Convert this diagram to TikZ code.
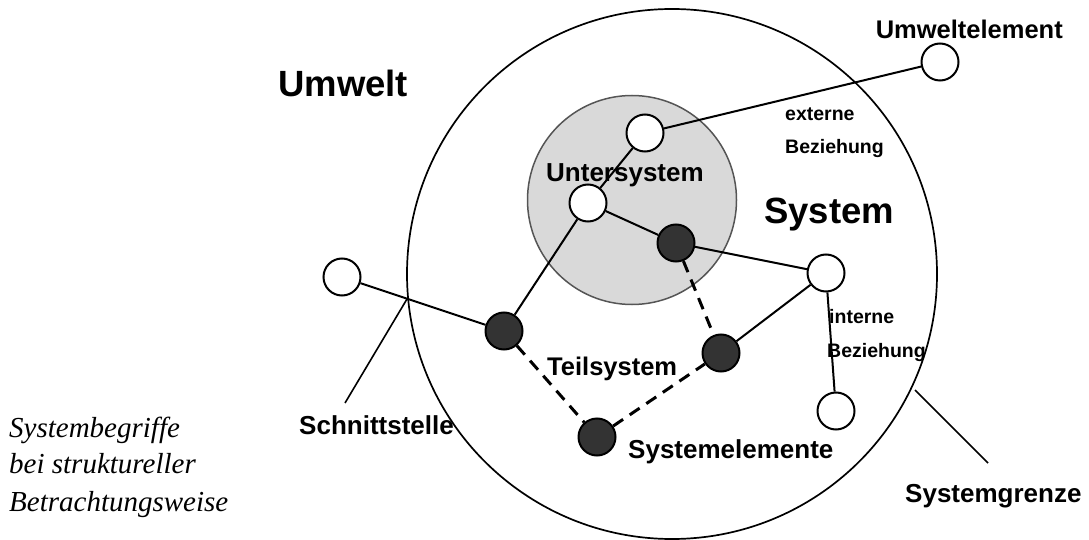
\documentclass[tikz,border=0pt]{standalone}
\usepackage{fontspec}
\setmainfont{Liberation Sans}
\newfontfamily\seriffont{Liberation Serif}
\definecolor{darkfill}{HTML}{333333}
\definecolor{subfill}{HTML}{D9D9D9}
\definecolor{subline}{HTML}{555555}
\begin{document}
\begin{tikzpicture}[x=1pt,y=-1pt,
  elem/.style={circle, draw=black, line width=2pt, minimum size=37pt, inner sep=0pt},
  whiteelem/.style={elem, fill=white},
  darkelem/.style={elem, fill=darkfill},
  link/.style={line width=2pt},
  dashlink/.style={line width=3pt, dash pattern=on 12pt off 8pt},
  pointer/.style={line width=1.6pt},
  lbl/.style={inner sep=0pt, anchor=base west},
  big/.style={lbl, font=\bfseries\fontsize{36.5}{36.5}\selectfont},
  mid/.style={lbl, font=\bfseries\fontsize{26}{26}\selectfont},
  small/.style={lbl, font=\bfseries\fontsize{19.5}{19.5}\selectfont},
  caption/.style={lbl, font=\seriffont\itshape\fontsize{29}{29}\selectfont}]
\useasboundingbox (0,0) rectangle (1089,540);

% system boundary and subsystem
\node[circle, draw=black, line width=1.7pt, minimum size=530pt, inner sep=0pt] (sys) at (672,274) {};
\node[circle, draw=subline, fill=subfill, line width=1.5pt, minimum size=209pt, inner sep=0pt] (sub) at (632,200) {};

% system elements
\node[whiteelem] (ue) at (940,62) {};
\node[whiteelem] (u1) at (645,133) {};
\node[whiteelem] (u2) at (588,203) {};
\node[darkelem]  (d1) at (676,243) {};
\node[whiteelem] (w1) at (342,277) {};
\node[darkelem]  (d2) at (504,331) {};
\node[darkelem]  (d3) at (721,353) {};
\node[darkelem]  (d4) at (597,437) {};
\node[whiteelem] (w2) at (826,273) {};
\node[whiteelem] (w3) at (836,411) {};

% relations
\draw[link] (ue) -- (u1);
\draw[link] (u1) -- (u2);
\draw[link] (u2) -- (d1);
\draw[link] (u2) -- (d2);
\draw[link] (d1) -- (w2);
\draw[link] (w2) -- (d3);
\draw[link] (w2) -- (w3);
\draw[link] (w1) -- (d2);

% subsystem relations
\draw[dashlink] (d1) -- (d3);
\draw[dashlink] (d2) -- (d4);
\draw[dashlink] (d4) -- (d3);

% pointers to labels
\coordinate (schnittpt) at (407,299);
\coordinate (schnittend) at (345,403);
\coordinate (grenzpt) at (915,390);
\coordinate (grenzend) at (988,463);
\draw[pointer] (schnittpt) -- (schnittend);
\draw[pointer] (grenzpt) -- (grenzend);

% labels
\node[big] (tumwelt) at (278,97) {Umwelt};
\node[big] (tsystem) at (764,223) {System};
\node[mid] (tunter) at (546,182) {Untersystem};
\node[mid, font=\bfseries\fontsize{25.5}{25.5}\selectfont] (tteil) at (547,375) {Teilsystem};
\node[mid] (telem) at (628,458) {Systemelemente};
\node[mid] (tschnitt) at (299,434) {Schnittstelle};
\node[mid] (tgrenze) at (905,502) {Systemgrenze};
\node[mid, font=\bfseries\fontsize{25.5}{25.5}\selectfont, anchor=base east] (tue) at (1063,39) {Umweltelement};
\node[small] (text1) at (785,121) {externe};
\node[small] (text2) at (785,154) {Beziehung};
\node[small] (tint1) at (829,323) {interne};
\node[small] (tint2) at (827,357) {Beziehung};

% caption
\node[caption] (cap1) at (9,437) {Systembegriffe};
\node[caption] (cap2) at (9,473) {bei struktureller};
\node[caption] (cap3) at (9,511) {Betrachtungsweise};
\end{tikzpicture}
\end{document}
